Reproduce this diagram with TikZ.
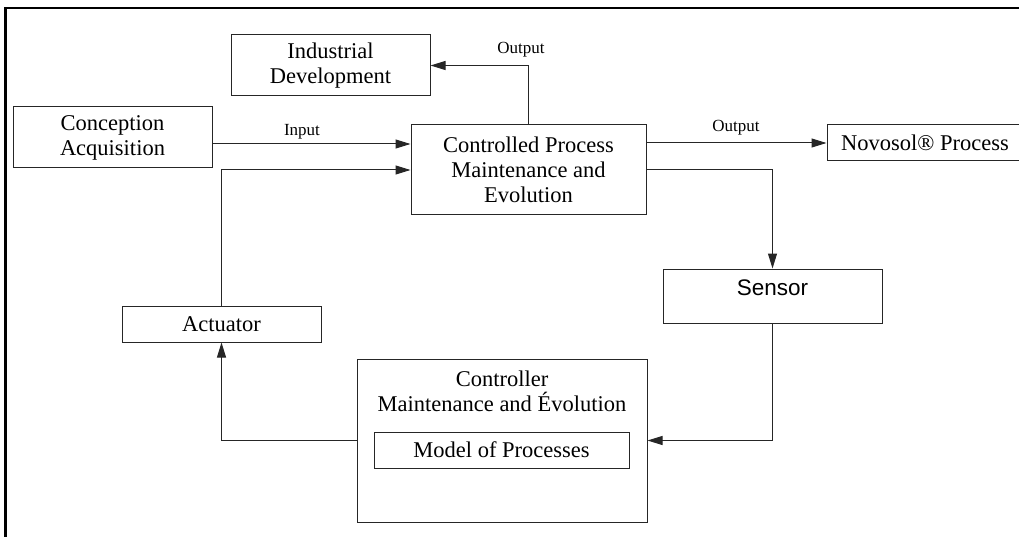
\documentclass[tikz,border=0pt]{standalone}
\usepackage{fontspec}
\setmainfont{Liberation Serif}
\newfontfamily\arialfont{Liberation Sans}
\usetikzlibrary{arrows.meta}
\begin{document}
\begin{tikzpicture}[x=1pt,y=-1pt,
  box/.style={draw=black!85, line width=1pt, inner sep=0pt, align=center,
              font=\fontsize{22.5}{25}\selectfont},
  txt/.style={inner sep=0pt, align=center, font=\fontsize{22.5}{25}\selectfont},
  lbl/.style={inner sep=0pt, font=\fontsize{17}{19}\selectfont},
  conn/.style={draw=black!85, line width=1pt, -{Triangle[length=15pt,width=9pt]}},
  wire/.style={draw=black!85, line width=1pt}
]
\useasboundingbox (0,0) rectangle (1019,537);
\clip (0,0) rectangle (1019,537);
% outer frame
\draw[line width=2.5pt] (5.5,560) -- (5.5,8) -- (1060,8);

% boxes
\node[box, minimum width=199, minimum height=61] (indus) at (330.5,65.5) {Industrial\\Development};
\node[box, minimum width=199, minimum height=61] (concep) at (112.5,137.5) {Conception\\Acquisition};
\node[box, minimum width=235, minimum height=90] (proc) at (528.5,170) {Controlled Process\\Maintenance and\\Evolution};
\node[box, minimum width=196, minimum height=36] (novo) at (925,143) {Novosol® Process};
\node[box, minimum width=219, minimum height=54] (sensor) at (772.5,296) {};
\node[txt, font=\arialfont\fontsize{22.5}{25}\selectfont] (sensortxt) at (772.5,288) {Sensor};
\node[box, minimum width=199, minimum height=36] (actu) at (221.5,324) {Actuator};
\node[box, minimum width=290, minimum height=163] (ctrl) at (502,440.5) {};
\node[txt] (ctrltxt) at (502,391) {Controller\\Maintenance and Évolution};
\node[box, minimum width=255, minimum height=36] (model) at (501.5,450) {Model of Processes};

% helper coordinate for input line
\coordinate (inY) at (0,144);

% connectors
\draw[conn] (concep.east |- inY) -- (proc.west |- inY);
\draw[conn] (actu.north) |- (proc.west);
\draw[conn] (proc.north) |- (indus.east);
\draw[conn] (proc.east |- novo.west) -- (novo.west);
\draw[conn] (proc.east) -| (sensor.north);
\draw[conn] (sensor.south) |- (ctrl.east);
\draw[conn] (ctrl.west) -| (actu.south);

% labels
\node[lbl] (lin) at (302,132) {Input};
\node[lbl] (lout1) at (521,50) {Output};
\node[lbl] (lout2) at (736,128) {Output};
\end{tikzpicture}
\end{document}
